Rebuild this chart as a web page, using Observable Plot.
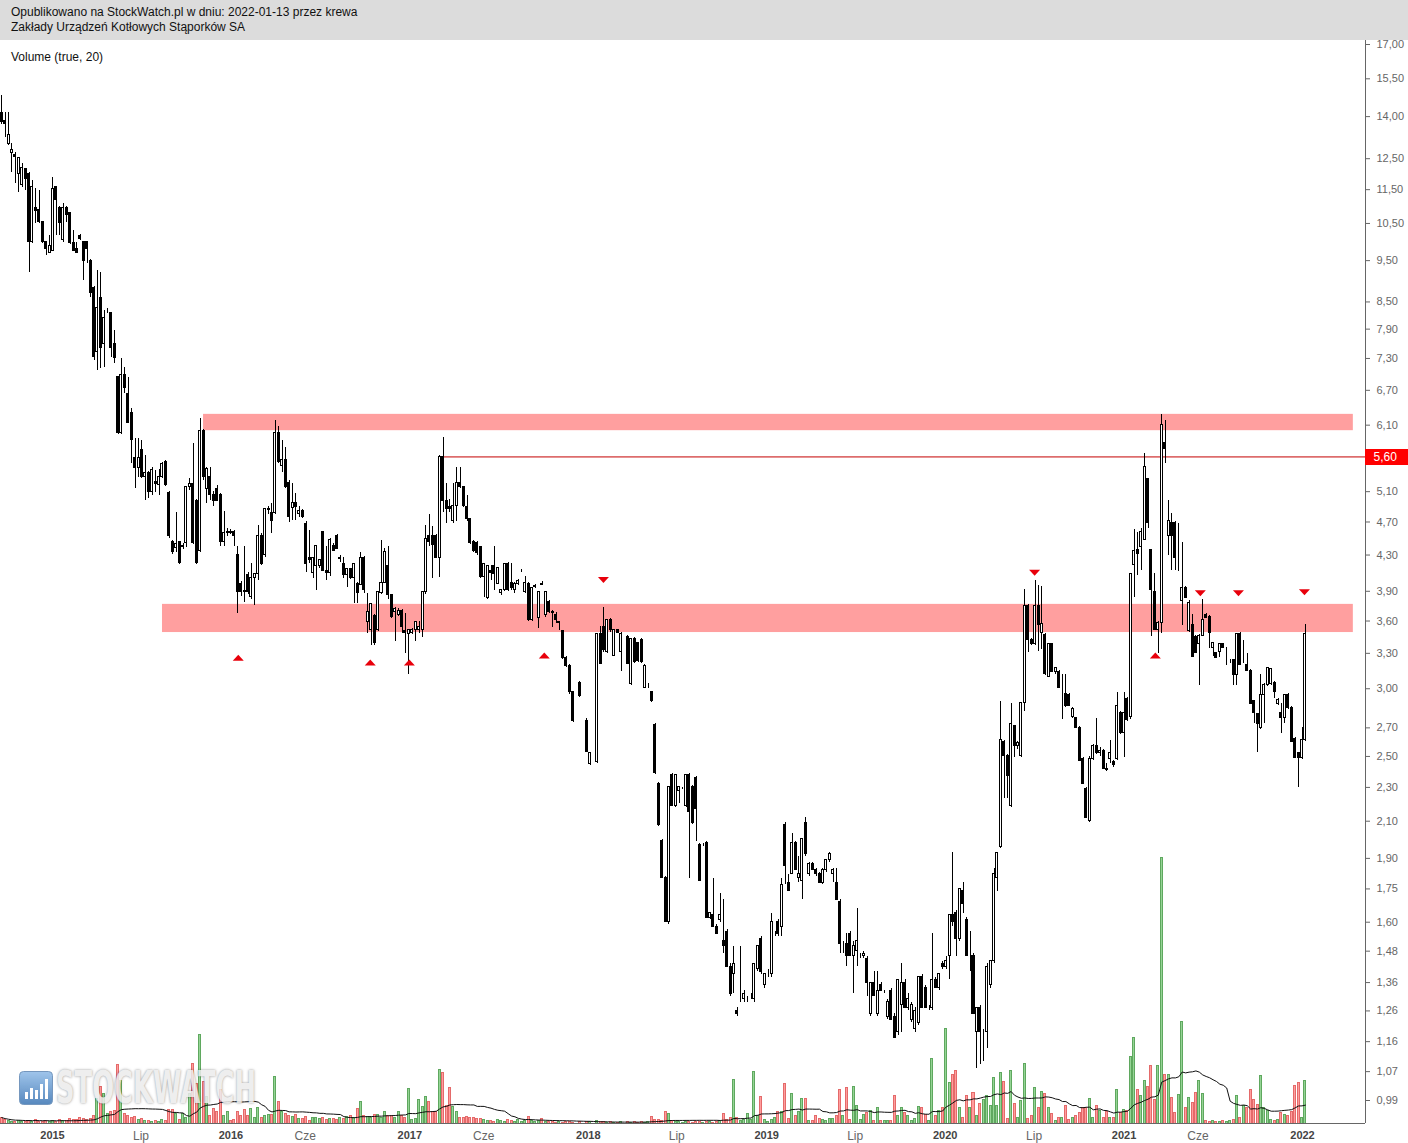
<!DOCTYPE html>
<html lang="pl">
<head>
<meta charset="utf-8">
<script src="https://cdn.jsdelivr.net/npm/d3@7"></script>
<script src="https://cdn.jsdelivr.net/npm/@observablehq/plot@0.6"></script>
<style>
html,body{margin:0;padding:0;background:#fff;}
#chart{position:relative;width:1408px;height:1143px;overflow:hidden;background:#fff;font-family:"Liberation Sans",Arial,sans-serif;}
#header{position:absolute;left:0;top:0;width:1408px;height:40px;background:#dcdcdc;}
.hline{position:absolute;left:11px;font-size:12px;line-height:14px;color:#111;white-space:nowrap;}
#volLabel{position:absolute;left:11px;top:50px;font-size:12px;line-height:14px;color:#111;}
.layer{position:absolute;left:0;top:40px;}
#wm{position:absolute;left:19px;top:1070px;height:35px;display:flex;align-items:center;opacity:.85;}
#wmText{display:inline-block;margin-left:3px;font-family:"Liberation Sans Narrow","DejaVu Sans Condensed","Liberation Sans",sans-serif;font-weight:bold;font-size:44px;line-height:35px;color:#ececec;text-shadow:0 0 3px rgba(0,0,0,.5);transform-origin:0 50%;white-space:nowrap;}
</style>
</head>
<body>
<div id="chart">
  <div id="header">
    <div class="hline" style="top:5px">Opublikowano na StockWatch.pl w dniu: 2022-01-13 przez krewa</div>
    <div class="hline" style="top:20px">Zakłady Urządzeń Kotłowych Stąporków SA</div>
  </div>
  <div id="volLabel">Volume (true, 20)</div>
  <div id="volLayer" class="layer"></div>
  <div id="wm">
    <svg width="34" height="34" viewBox="0 0 34 34"><defs><linearGradient id="wmg" x1="0" y1="0" x2="0" y2="1"><stop offset="0" stop-color="#8fbbe8"/><stop offset="1" stop-color="#3a74b3"/></linearGradient></defs><rect x="0.5" y="0.5" width="33" height="33" rx="4" fill="url(#wmg)" stroke="#5d86b3"/><g fill="#fff"><rect x="6" y="21" width="3" height="7"/><rect x="11" y="17" width="3" height="11"/><rect x="16" y="19" width="3" height="9"/><rect x="21" y="13" width="3" height="15"/><rect x="26" y="8" width="3" height="20"/></g></svg>
    <span id="wmText">STOCKWATCH</span>
  </div>
  <div id="priceLayer" class="layer"></div>
</div>
<script>
// ---------- DATA: weekly candles [open, high, low, close] (null = no trading) ----------
const candles2014 = [
[14.12,14.82,13.71,13.78],[13.82,14.16,13.24,13.74],[13.02,14.16,12.95,13.31],[12.68,13.02,12.04,12.78],[12.64,12.71,11.69,12.57],
[12.01,12.54,11.41,12.51],[11.63,12.34,11.57,12.18],[12.15,12.18,11.47,11.85],[12.01,12.05,9.20,9.98],[9.98,11.79,9.95,11.57],
[10.96,11.54,10.50,10.87],[10.90,11.47,10.50,10.53],[10.53,10.56,9.95,9.98],[9.98,10.00,9.63,9.81],[9.71,10.16,9.68,9.89]
];
const candles2015 = [
[9.76,11.88,9.74,11.51],[11.57,11.60,10.16,11.17],[10.96,11.00,10.16,10.50],[10.03,11.08,9.98,10.96],[10.96,11.00,10.53,10.73],
[10.79,10.82,9.92,9.95],[9.95,10.30,9.74,9.76],[9.81,9.98,9.68,9.71],[10.16,10.18,10.03,10.08],[9.98,10.00,9.00,9.50],
[9.98,10.00,9.43,9.81],[9.50,9.52,8.60,8.70],[8.82,8.85,7.26,7.32],[7.42,9.25,7.07,8.37],[8.60,9.20,7.11,7.50],
[7.60,8.31,7.13,8.15],[8.31,8.36,8.25,8.31],[8.24,8.26,7.32,7.50],[7.60,7.87,7.20,7.30],[6.94,6.96,5.95,5.97],
[5.98,7.30,5.95,6.98],[6.98,7.13,6.64,6.75],[6.64,6.94,6.12,6.14],[6.30,6.38,5.50,5.86],[5.59,5.89,5.14,5.44],
[5.44,5.89,5.30,5.59],[5.70,5.86,5.28,5.30],[5.30,5.62,4.98,5.36],[5.36,5.38,5.01,5.09],[5.09,5.45,5.05,5.40],
[5.23,5.40,5.09,5.20],[5.19,5.42,5.05,5.30],[5.30,5.52,5.28,5.50],[5.52,5.55,5.17,5.19],[5.08,5.10,4.50,4.53],
[4.45,4.47,4.31,4.33],[4.38,4.82,4.33,4.43],[4.45,4.46,4.19,4.21],[4.39,4.43,4.36,4.41],[4.44,5.17,4.39,5.16],
[5.16,5.28,5.12,5.20],[5.20,5.81,4.42,4.44],[4.98,5.00,4.19,4.21],[4.35,6.21,4.33,6.01],[6.01,6.03,5.26,5.30],
[5.14,5.45,4.94,5.42],[5.30,5.44,4.98,5.05],[5.05,5.10,4.90,4.98],[5.14,5.18,4.96,4.98],[5.05,5.07,4.40,4.45],
[4.45,4.84,4.40,4.56],[4.56,4.62,4.52,4.58]
];
const candles2016 = [
[4.58,4.60,4.54,4.56],[4.58,4.59,4.40,4.53],[4.30,4.40,3.67,3.89],[3.98,4.00,3.85,3.89],[3.90,4.40,3.78,3.89],
[4.08,4.10,3.87,3.89],[3.84,4.20,3.81,4.04],[4.04,4.09,3.75,4.09],[4.09,4.66,4.02,4.53],[4.53,4.56,4.18,4.20],
[4.30,4.88,4.27,4.87],[4.85,4.90,4.80,4.87],[4.82,4.94,4.56,4.71],[4.81,6.18,4.79,5.97],[5.97,6.07,5.50,5.52],
[5.47,5.86,5.37,5.55],[5.55,5.74,5.14,5.16],[5.22,5.25,4.69,4.76],[4.88,5.22,4.72,4.95],[4.95,5.08,4.72,4.90],
[4.80,4.90,4.76,4.84],[4.84,4.86,4.74,4.76],[4.68,4.70,4.10,4.20],[4.27,4.59,4.20,4.24],[4.10,4.27,4.04,4.27],
[4.18,4.41,3.91,4.41],[4.18,4.25,4.15,4.24],[4.57,4.58,4.11,4.12],[4.12,4.40,4.02,4.10],[4.10,4.50,4.06,4.48],
[4.40,4.44,4.34,4.35],[4.53,4.54,4.36,4.37],[4.25,4.30,4.22,4.27],[4.20,4.27,4.04,4.07],[4.07,4.15,3.94,4.14],
[4.14,4.15,4.03,4.04],[4.04,4.20,3.77,4.20],[3.98,3.99,3.77,3.88],[3.97,4.33,3.96,4.27],[4.27,4.28,3.88,3.91],
[3.59,3.88,3.48,3.69],[3.51,3.77,3.37,3.77],[3.65,3.66,3.37,3.39],[3.51,3.89,3.50,3.89],[3.88,4.47,3.87,3.99],
[3.99,4.38,3.98,4.33],[4.18,4.40,3.81,3.86],[3.86,3.87,3.62,3.64],[3.69,3.73,3.41,3.72],[3.66,3.72,3.64,3.70],
[3.70,3.71,3.48,3.54],[3.50,3.67,3.30,3.49],[3.48,3.51,3.12,3.51]
];
const candles2017 = [
[3.49,3.53,3.47,3.51],[3.51,3.60,3.41,3.59],[3.51,3.60,3.48,3.54],[3.51,3.89,3.44,3.89],[3.89,4.66,3.87,4.49],
[4.53,4.79,4.40,4.45],[4.53,4.64,4.04,4.42],[4.53,4.54,4.26,4.27],[4.27,5.62,4.05,5.60],[5.60,5.90,4.82,4.98],
[4.98,5.22,4.68,4.87],[4.90,5.00,4.82,4.87],[4.71,5.22,4.68,4.91],[4.91,5.44,4.71,5.22],[5.22,5.44,5.14,5.16],
[5.16,5.17,4.89,4.91],[4.89,5.05,4.71,4.74],[4.74,4.75,4.42,4.44],[4.45,4.47,4.33,4.35],[4.44,4.46,4.30,4.32],
[4.39,4.40,4.04,4.05],[4.05,4.20,3.84,4.20],[3.83,4.18,3.81,4.18],[4.12,4.18,4.02,4.10],[4.18,4.40,3.91,4.09],
[3.98,4.15,3.97,4.15],[3.88,3.92,3.86,3.91],[3.91,4.20,3.90,4.20],[4.20,4.21,3.90,3.91],[3.99,4.20,3.91,3.94],
[3.91,3.99,3.88,3.98],[3.98,4.03,3.96,4.01],[4.10,4.14,4.10,4.10],[3.89,4.06,3.88,3.99],[3.98,3.99,3.60,3.61],
[3.61,3.94,3.60,3.93],[3.95,3.97,3.93,3.96],[3.63,3.89,3.53,3.89],[3.98,4.00,3.96,3.97],[3.66,3.89,3.63,3.89],
[3.79,3.80,3.67,3.69],[3.69,3.70,3.54,3.68],[3.66,3.68,3.58,3.61],[3.58,3.60,3.51,3.59],[3.50,3.51,3.25,3.26],
[3.26,3.27,3.18,3.19],[3.19,3.20,2.95,2.97],[2.97,2.98,2.74,2.75],null,[3.05,3.06,2.93,2.94],
null,[2.75,2.77,2.53,2.53]
];
const candles2018 = [
[2.45,2.52,2.44,2.52],null,[2.46,3.48,2.45,3.48],[3.48,3.55,3.20,3.21],[3.54,3.73,3.31,3.33],
[3.31,3.61,3.30,3.61],[3.61,3.62,3.49,3.51],[3.28,3.51,3.27,3.51],[3.51,3.52,3.48,3.49],[3.31,3.49,3.14,3.48],
null,[3.45,3.46,3.20,3.21],[3.04,3.43,3.03,3.43],[3.43,3.44,3.21,3.22],[3.39,3.40,3.22,3.23],
[3.42,3.43,3.21,3.22],[3.01,3.20,3.00,3.19],[3.02,3.04,3.00,3.02],[2.97,2.98,2.89,2.90],[2.72,2.73,2.38,2.39],
[2.32,2.33,2.07,2.08],[1.99,2.00,1.80,1.80],[1.80,1.81,1.60,1.60],[1.60,2.30,1.59,2.30],[2.38,2.39,2.19,2.19],
[2.19,2.38,2.18,2.38],[2.28,2.30,2.20,2.30],[2.30,2.30,2.29,2.30],[2.19,2.38,2.18,2.38],[2.38,2.39,1.80,2.15],
[2.30,2.31,2.08,2.09],[2.36,2.37,1.99,2.17],[1.97,1.98,1.79,1.79],[1.97,1.98,1.96,1.97],[1.98,1.99,1.62,1.62],
[1.62,1.64,1.61,1.64],[1.63,1.80,1.58,1.58],[1.58,1.59,1.55,1.55],[1.61,1.73,1.60,1.63],[1.52,1.70,1.47,1.50],
[1.56,1.57,1.42,1.42],[1.42,1.43,1.31,1.32],[1.39,1.50,1.32,1.43],[1.26,1.27,1.24,1.25],[1.30,1.50,1.29,1.30],
[1.30,1.33,1.29,1.32],[1.30,1.31,1.29,1.30],[1.30,1.32,1.30,1.30],[1.30,1.43,1.29,1.43],[1.41,1.50,1.40,1.50],
[1.53,1.54,1.39,1.40],[1.35,1.39,1.34,1.39]
];
const candles2019 = [
[1.39,1.41,1.38,1.39],[1.39,1.64,1.38,1.60],[1.55,1.56,1.54,1.55],[1.60,1.61,1.54,1.55],[1.58,1.80,1.54,1.77],
[2.08,2.09,1.77,1.86],[1.78,1.82,1.74,1.74],[1.82,2.03,1.82,1.98],[1.98,1.99,1.84,1.84],[1.80,1.91,1.78,1.82],
[1.79,2.00,1.70,2.00],[2.09,2.12,1.91,1.92],[1.82,1.88,1.81,1.87],[1.87,1.88,1.84,1.84],[1.84,1.85,1.81,1.82],
[1.82,1.83,1.78,1.78],[1.78,1.85,1.77,1.84],[1.84,1.89,1.83,1.89],[1.89,1.93,1.88,1.92],[1.82,1.85,1.78,1.84],
[1.78,1.85,1.70,1.70],[1.69,1.70,1.47,1.51],[1.51,1.52,1.47,1.51],[1.51,1.55,1.42,1.46],[1.55,1.56,1.46,1.46],
[1.46,1.52,1.32,1.50],[1.48,1.66,1.42,1.52],[1.46,1.47,1.45,1.46],[1.46,1.48,1.45,1.47],[1.45,1.46,1.31,1.36],
[1.25,1.36,1.24,1.36],[1.36,1.40,1.31,1.31],[1.25,1.40,1.24,1.33],[1.35,1.36,1.33,1.33],[1.33,1.33,1.32,1.33],
[1.24,1.30,1.23,1.29],[1.33,1.34,1.23,1.23],[1.24,1.25,1.17,1.17],[1.19,1.37,1.18,1.37],[1.28,1.43,1.19,1.36],
[1.36,1.37,1.27,1.27],[1.27,1.32,1.26,1.30],[1.23,1.29,1.22,1.28],[1.20,1.27,1.19,1.26],[1.22,1.38,1.21,1.38],
[1.38,1.39,1.27,1.27],[1.34,1.35,1.27,1.27],[1.27,1.28,1.26,1.27],[1.27,1.55,1.26,1.37],[1.37,1.38,1.34,1.34],
[1.34,1.39,1.33,1.39],[1.43,1.44,1.41,1.42]
];
const candles2020 = [
[1.42,1.46,1.41,1.44],[1.46,1.63,1.37,1.63],[1.63,1.93,1.58,1.60],[1.64,1.65,1.46,1.53],[1.53,1.75,1.52,1.75],
[1.74,1.78,1.64,1.68],[1.61,1.62,1.46,1.46],[1.51,1.56,1.40,1.51],[1.46,1.47,1.25,1.25],[1.19,1.27,1.08,1.27],
[1.27,1.28,1.09,1.19],[1.19,1.20,1.10,1.19],[1.19,1.43,1.14,1.42],[1.35,1.44,1.34,1.44],[1.44,1.85,1.43,1.82],
[1.80,1.93,1.74,1.93],[1.96,2.90,1.95,2.61],[2.60,2.61,2.23,2.50],[2.50,2.51,2.23,2.37],[2.19,2.88,2.18,2.73],
[2.71,2.72,2.49,2.57],[2.57,2.60,2.55,2.59],[2.50,2.89,2.49,2.89],[2.89,3.92,2.82,3.75],[3.75,3.76,3.31,3.42],
[3.42,3.43,3.37,3.38],[3.38,4.02,3.37,3.75],[3.75,3.96,3.32,3.56],[3.49,3.95,3.33,3.57],[3.47,3.48,3.11,3.12],
[3.10,3.38,3.09,3.38],[3.38,3.39,3.13,3.14],[3.14,3.18,3.12,3.17],[3.14,3.15,3.00,3.01],[2.97,3.12,2.76,2.97],
[2.96,3.12,2.85,2.86],[2.95,2.96,2.86,2.86],[2.78,2.85,2.77,2.84],[2.77,2.78,2.70,2.70],[2.70,2.71,2.47,2.47],
[2.48,2.49,2.32,2.32],[2.29,2.30,2.12,2.12],[2.10,2.50,2.09,2.48],[2.48,2.58,2.47,2.57],[2.57,2.77,2.51,2.52],
[2.52,2.56,2.50,2.54],[2.54,2.55,2.42,2.42],[2.42,2.45,2.40,2.41],[2.48,2.61,2.45,2.52],[2.46,2.47,2.43,2.44],
[2.48,2.97,2.47,2.86],[2.81,2.82,2.65,2.66]
];
const candles2021 = [
[2.66,2.97,2.49,2.81],[2.92,2.93,2.75,2.76],[2.78,4.09,2.76,4.09],[4.19,4.60,3.84,4.35],[4.36,4.57,4.07,4.31],
[4.39,4.62,4.12,4.57],[4.48,5.65,4.47,5.45],[5.27,5.28,4.62,4.69],[4.36,4.37,3.45,3.91],[3.89,4.09,3.51,3.51],
[3.51,3.60,3.30,3.58],[3.58,6.27,3.48,6.10],[5.82,6.18,5.50,5.72],[4.53,4.98,4.30,4.71],[4.69,4.81,4.12,4.52],
[4.69,4.70,4.12,4.27],[4.30,4.68,4.11,4.30],[3.80,4.45,3.56,3.93],[3.93,3.95,3.82,3.83],[3.50,3.80,3.49,3.78],
[3.56,3.66,3.26,3.27],[3.45,3.46,3.30,3.30],[3.38,3.47,3.03,3.46],[3.46,3.81,3.45,3.61],[3.66,3.67,3.62,3.63],
[3.64,3.65,3.34,3.49],[3.35,3.40,3.27,3.39],[3.30,3.31,3.26,3.26],[3.31,3.38,3.26,3.38],[3.38,3.39,3.35,3.35],
[3.34,3.35,3.19,3.34],[3.24,3.25,3.21,3.24],[3.24,3.25,3.03,3.11],[3.11,3.48,3.03,3.48],[3.48,3.49,3.20,3.20],
[3.30,3.42,3.21,3.30],[3.20,3.30,3.15,3.15],[3.15,3.16,2.88,2.88],[2.90,2.91,2.73,2.81],[2.80,2.81,2.53,2.73],
[2.70,3.12,2.69,2.95],[2.95,3.04,2.73,3.03],[3.03,3.18,3.02,3.17],[3.04,3.17,3.03,3.16],[3.05,3.06,2.92,2.97],
[2.88,2.92,2.87,2.91],[2.81,2.88,2.66,2.77],[2.77,2.95,2.73,2.95],[2.95,2.96,2.84,2.85],[2.85,2.86,2.60,2.60],
[2.62,2.63,2.49,2.49],[2.52,2.53,2.30,2.49],[2.49,2.70,2.48,2.61]
];
const candles2022 = [[2.61,3.57,2.60,3.48]];

// weekly volume (thousand shares), same order as the candles
const volume2014 = [6,4,3,2,2,3,2,2,3,2,4,2,2,3,2];
const volume2015 = [3,2,4,3,3,5,4,4,6,5,4,5,8, 25,37,30,10,12,13,59,43,10,8,6,7,4,5,3, 3,2,3,2,4,3, 14,14,10,4,10,6, 30,60,40,90,42,27,8,15,12,34,8,12];
const volume2016 = [3,4,12,8,14,8,15,6,16,6,8,9,9,47,22,12,10,8,7,9,5,5,7,3,6,6,5,6,4,5,5,4,6,5,7,8,6,15,22,8,7,6,9,9,6,12,8,8,6,12,8,6,35];
const volume2017 = [4,5,24,17,27,22,12,12,54,51,18,36,17,12,6,6,7,6,6,5,5,4,3,3,2,4,3,2,4,3,2,4,2,3,7,3,2,3,5,2,2,2,1,2,1,2,2,1,0,2,0,2];
const volume2018 = [2,0,3,2,2,1,2,1,1,2,0,2,1,2,1,2,1,2,7,4,4,3,12,10,3,2,2,1,2,2,1,2,2,1,2,2,1,2,3,10,4,6,44,6,3,4,10,4,52,8,27,4];
const volume2019 = [2,4,6,12,12,40,5,30,8,12,25,25,3,3,8,5,4,3,5,5,8,34,8,36,4,37,18,4,9,11,13,3,16,3,3,3,3,28,8,16,11,8,3,5,17,16,9,3,66,8,13,16];
const volume2020 = [96,41,49,53,16,6,28,16,31,8,20,24,28,18,46,18,51,42,5,53,20,6,23,60,5,8,36,16,32,30,16,10,3,6,6,18,4,6,8,11,16,16,25,6,18,13,6,12,6,6,34,11];
const volume2021 = [14,13,68,87,34,28,43,37,58,24,58,270,49,49,26,11,29,103,16,26,21,31,43,30,3,2,3,2,2,3,2,3,4,28,6,18,16,34,24,19,48,16,13,4,3,4,11,9,8,12,38,41,6];
const volume2022 = [43];

// right axis ticks (PLN); the 5,60 level is labelled by the red marker instead
const priceTicks = [17,15.5,14,12.5,11.5,10.5,9.5,8.5,7.9,7.3,6.7,6.1,5.1,4.7,4.3,3.9,3.6,3.3,3.0,2.7,2.5,2.3,2.1,1.9,1.75,1.6,1.48,1.36,1.26,1.16,1.07,0.99];
// time axis ticks
const timeTickDates = ["2015-01-01","2015-07-01","2016-01-01","2016-06-01","2017-01-01","2017-06-01","2018-01-01","2018-07-01","2019-01-01","2019-07-01","2020-01-01","2020-07-01","2021-01-01","2021-06-01","2022-01-01"];
const timeTickLabels = ["2015","Lip","2016","Cze","2017","Cze","2018","Lip","2019","Lip","2020","Lip","2021","Cze","2022"];
// support / resistance zones
const zoneStart = ["2015-11-06","2015-08-14"];
const zoneEnd   = ["2022-04-15","2022-04-15"];
const zoneLow   = [6.01, 3.49];
const zoneHigh  = [6.28, 3.765];
// horizontal level line
const levelStart = ["2017-03-03"];
const levelValue = [5.60];
// annotation triangles
const upMarkDates   = ["2016-01-16","2016-10-12","2016-12-31","2017-10-03","2021-03-06"];
const upMarkPrices  = [3.26,3.22,3.22,3.28,3.28];
const downMarkDates = ["2018-02-01","2020-07-02","2021-06-06","2021-08-23","2022-01-05"];
const downMarkPrices= [4.02,4.10,3.88,3.88,3.89];

// ---------- build ----------
const DAY = 864e5;
const firstWeek = Date.UTC(2014, 8, 19);
const ohlc = [].concat(candles2014, candles2015, candles2016, candles2017, candles2018, candles2019, candles2020, candles2021, candles2022);
const vols = [].concat(volume2014, volume2015, volume2016, volume2017, volume2018, volume2019, volume2020, volume2021, volume2022);
const rows = ohlc.map((d, i) => ({
  date: new Date(firstWeek + i * 7 * DAY),
  has: !!d,
  o: d ? d[0] : NaN, h: d ? d[1] : NaN, l: d ? d[2] : NaN, c: d ? d[3] : NaN,
  v: vols[i] ?? 0
}));
const bars = rows.filter(r => r.has);
const upBars = bars.filter(r => r.c >= r.o);
const downBars = bars.filter(r => r.c < r.o);
const volUp = upBars.filter(r => r.v > 0);
const volDown = downBars.filter(r => r.v > 0);

const half = 2.05 * DAY;
const left = r => new Date(+r.date - half);
const right = r => new Date(+r.date + half);

const W = 1408, H = 1103, MR = 43;
const t2015 = Date.UTC(2015,0,1), t2022 = Date.UTC(2022,0,1);
const msPerPx = (t2022 - t2015) / 1250;
const xDomain = [new Date(t2015 - 52 * msPerPx), new Date(t2022 + (W - MR - 1302) * msPerPx)];
const labelEnd = new Date(+xDomain[1] + MR * msPerPx);

const zones = zoneStart.map((s, i) => ({start: new Date(s), end: new Date(zoneEnd[i]), low: zoneLow[i], high: zoneHigh[i]}));
const levels = levelStart.map((s, i) => ({start: new Date(s), level: levelValue[i]}));
const upMarks = upMarkDates.map((s, i) => ({date: new Date(s), price: upMarkPrices[i]}));
const downMarks = downMarkDates.map((s, i) => ({date: new Date(s), price: downMarkPrices[i]}));
const timeTicks = timeTickDates.map(s => new Date(s));
const tickLabel = new Map(timeTicks.map((d, i) => [+d, timeTickLabels[i]]));
const fmtPrice = v => v.toFixed(2).replace(".", ",");

const triUp = {draw(ctx){ ctx.moveTo(0,-3); ctx.lineTo(5.5,3); ctx.lineTo(-5.5,3); ctx.closePath(); }};
const triDown = {draw(ctx){ ctx.moveTo(0,3); ctx.lineTo(5.5,-3); ctx.lineTo(-5.5,-3); ctx.closePath(); }};

const baseStyle = {background: "transparent", fontFamily: "Liberation Sans, Arial, sans-serif", fontSize: "11px", color: "#666", overflow: "visible"};

// volume panel (also carries the axes frame lines and the time axis)
const volPlot = Plot.plot({
  width: W, height: H, marginTop: 0, marginBottom: 20, marginLeft: 0, marginRight: MR,
  style: baseStyle,
  x: {type: "utc", domain: xDomain},
  y: {domain: [0, 1100], axis: null},
  marks: [
    Plot.rect(volUp, {x1: left, x2: right, y1: 0, y2: "v", fill: "#95d495", stroke: "#5fa85f", strokeWidth: 1, shapeRendering: "crispEdges"}),
    Plot.rect(volDown, {x1: left, x2: right, y1: 0, y2: "v", fill: "#ff9d9d", stroke: "#e46a6a", strokeWidth: 1, shapeRendering: "crispEdges"}),
    Plot.lineY(rows, Plot.windowY({k: 20, anchor: "end", reduce: "mean"}, {x: "date", y: "v", stroke: "#111", strokeWidth: 1})),
    Plot.ruleY([0], {stroke: "#666"}),
    Plot.ruleX([xDomain[1]], {stroke: "#666"}),
    Plot.axisX(timeTicks, {tickSize: 0, tickPadding: 8, tickFormat: d => tickLabel.get(+d)})
  ]
});
volPlot.querySelectorAll("text").forEach(t => {
  if (/^\d{4}$/.test(t.textContent)) { t.setAttribute("font-weight", "bold"); t.setAttribute("fill", "#444"); }
  else if (timeTickLabels.includes(t.textContent)) { t.setAttribute("fill", "#666"); t.setAttribute("font-size", "12"); }
});
document.getElementById("volLayer").appendChild(volPlot);

// price panel
const pricePlot = Plot.plot({
  width: W, height: H, marginTop: 4, marginBottom: 43, marginLeft: 0, marginRight: MR,
  style: baseStyle,
  x: {type: "utc", domain: xDomain, axis: null},
  y: {type: "log", domain: [0.99, 17], axis: null},
  marks: [
    Plot.rect(zones, {x1: "start", x2: "end", y1: "low", y2: "high", fill: "#ff9f9f"}),
    Plot.ruleY(levels, {x1: "start", x2: () => xDomain[1], y: "level", stroke: "#c40000", strokeWidth: 1}),
    Plot.ruleX(bars, {x: "date", y1: "l", y2: "h", stroke: "#000", strokeWidth: 1, shapeRendering: "crispEdges"}),
    Plot.rect(upBars, {x1: left, x2: right, y1: "o", y2: "c", fill: "#fff", stroke: "#000", strokeWidth: 1, shapeRendering: "crispEdges"}),
    Plot.rect(downBars, {x1: left, x2: right, y1: "o", y2: "c", fill: "#000", stroke: "#000", strokeWidth: 1, shapeRendering: "crispEdges"}),
    Plot.dot(upMarks, {x: "date", y: "price", symbol: triUp, fill: "#e8000b", r: 5}),
    Plot.dot(downMarks, {x: "date", y: "price", symbol: triDown, fill: "#e8000b", r: 5}),
    Plot.axisY(priceTicks, {anchor: "right", tickSize: 4, tickPadding: 7, tickFormat: fmtPrice}),
    Plot.ruleY(levels, {x1: () => xDomain[1], x2: () => labelEnd, y: "level", stroke: "#ff0000", strokeWidth: 16}),
    Plot.text(levels, {x: () => xDomain[1], y: "level", text: d => fmtPrice(d.level), fill: "#fff", textAnchor: "start", dx: 8, fontSize: 12})
  ]
});
document.getElementById("priceLayer").appendChild(pricePlot);

// fit watermark word
const wt = document.getElementById("wmText");
const ww = wt.getBoundingClientRect().width;
if (ww > 0) wt.style.transform = `scaleX(${200 / ww})`;
</script>
</body>
</html>
